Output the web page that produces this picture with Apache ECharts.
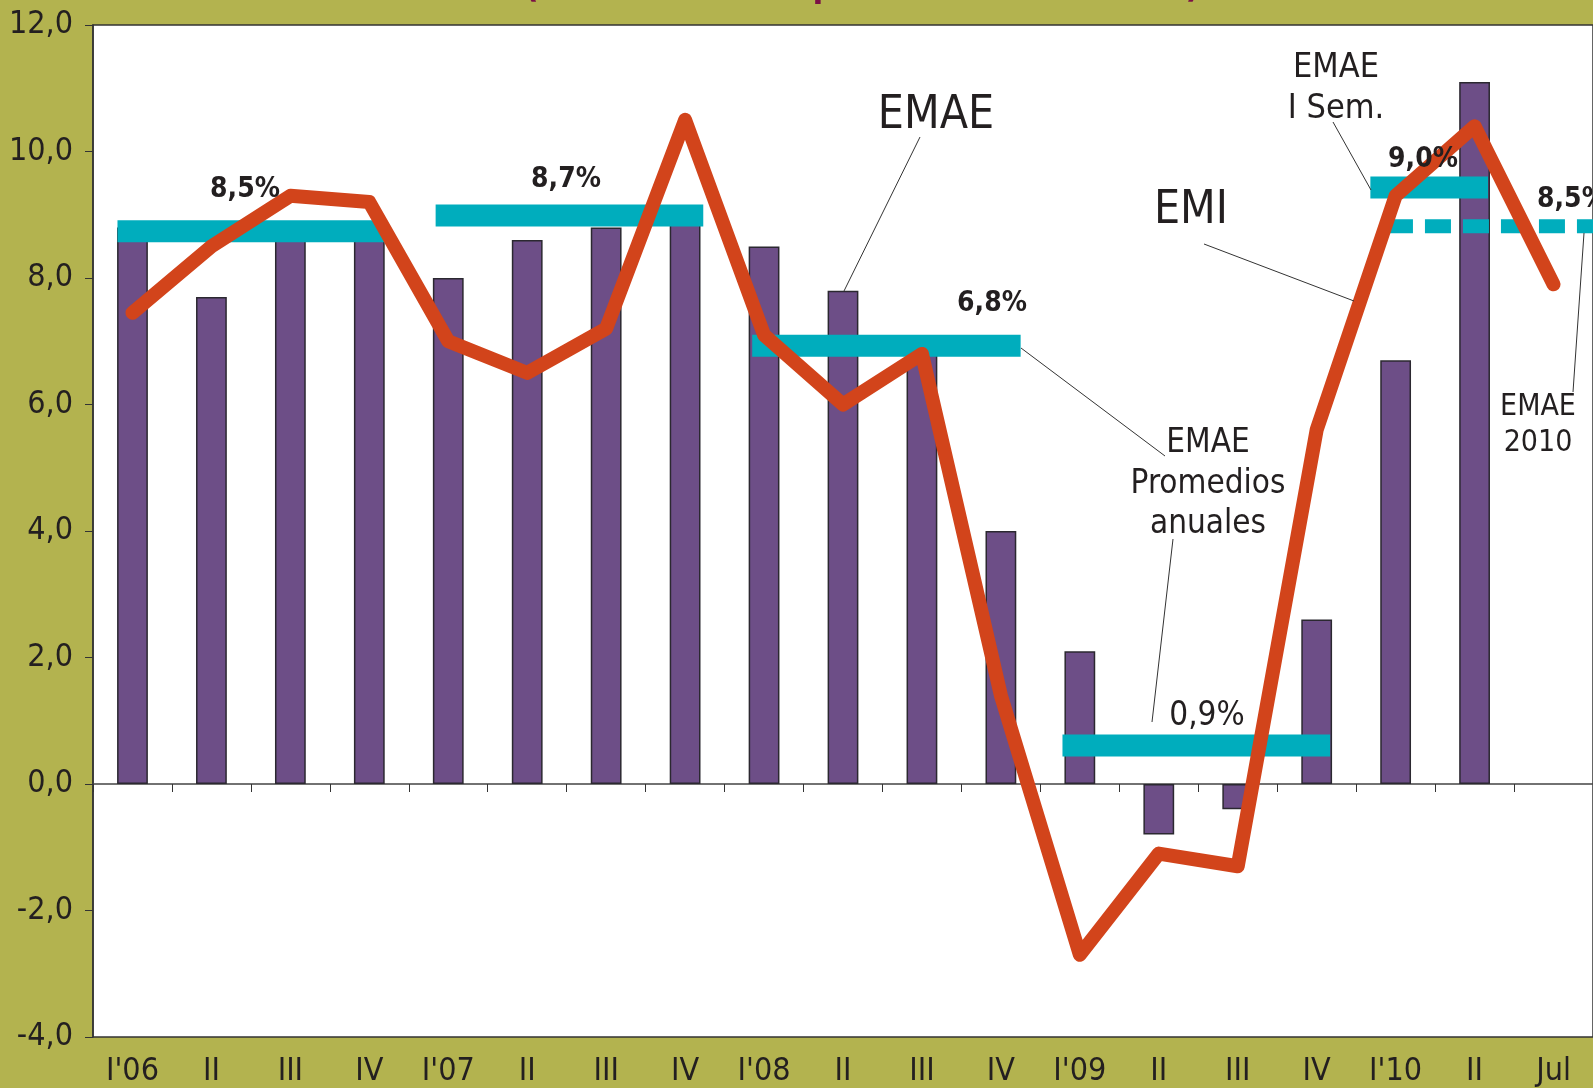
<!DOCTYPE html>
<html>
<head>
<meta charset="utf-8">
<script src="https://cdn.jsdelivr.net/npm/echarts@6/dist/echarts.min.js"></script>
<style>
  html, body { margin: 0; padding: 0; background: #b3b34f; }
  #chart { width: 1593px; height: 1088px; }
</style>
</head>
<body>
<div id="chart"></div>
<script>
// quarterly data, Y/Y % change
const categories = ["I'06", "II", "III", "IV", "I'07", "II", "III", "IV", "I'08", "II", "III", "IV",
  "I'09", "II", "III", "IV", "I'10", "II", "Jul"];
const emaeQuarterly = [8.8, 7.7, 8.7, 8.6, 8.0, 8.6, 8.8, 9.1, 8.5, 7.8, 6.9, 4.0,
  2.1, -0.8, -0.4, 2.6, 6.7, 11.1, null];
const emiQuarterly = [7.45, 8.5, 9.3, 9.2, 7.0, 6.5, 7.2, 10.5, 7.1, 6.0, 6.8, 1.4,
  -2.7, -1.1, -1.3, 5.6, 9.3, 10.4, 7.9];

// annual averages (drawn as thick bars), x in category-band units
const avgLevels = [8.74, 8.99, 6.93, 0.61, 9.43];
const avgStart = [0.31, 4.34, 8.35, 12.28, 16.18];
const avgEnd = [3.70, 7.73, 11.75, 15.67, 17.67];
const emae2010Level = 8.82;
const emae2010Span = [16.39, 19];

const yTicks = { min: -4, max: 12, interval: 2 };

const FONT = '"Liberation Sans Narrow", "DejaVu Sans Condensed", "Arial Narrow", sans-serif';
const TXT = '#231f20';

function label(text, x, y, size, weight, align, lineHeight) {
  return {
    type: 'text', x: x, y: y, z: 100,
    style: {
      text: text,
      font: (weight || 'normal') + ' ' + size + 'px ' + FONT,
      fill: TXT,
      align: align || 'center',
      verticalAlign: 'middle',
      lineHeight: lineHeight || size
    }
  };
}
function leader(x1, y1, x2, y2) {
  return {
    type: 'line', z: 100,
    shape: { x1: x1, y1: y1, x2: x2, y2: y2 },
    style: { stroke: '#333', lineWidth: 1 }
  };
}

const avgSeries = avgLevels.map((v, i) => ({
  type: 'line', xAxisIndex: 2, yAxisIndex: 0,
  data: [[avgStart[i], v], [avgEnd[i], v]],
  symbol: 'none', silent: true, animation: false, z: 3,
  lineStyle: { color: '#00adbd', width: 22, cap: 'butt' }
}));

const chart = echarts.init(document.getElementById('chart'));
chart.setOption({
  backgroundColor: '#b3b34f',
  textStyle: { fontFamily: FONT },
  grid: {
    left: 93, right: -1, top: 25, bottom: 50,
    show: true, backgroundColor: '#ffffff', borderColor: '#333', borderWidth: 1.5
  },
  xAxis: [
    {
      type: 'category', data: categories, position: 'bottom',
      axisLine: { onZero: true, lineStyle: { color: '#444', width: 1.5 } },
      axisTick: { show: true, interval: 0, length: 8, lineStyle: { color: '#333' } },
      axisLabel: { show: false }, splitLine: { show: false }
    },
    {
      type: 'category', data: categories, position: 'bottom',
      axisLine: { show: false, onZero: false },
      axisTick: { show: false },
      axisLabel: { show: true, interval: 0, color: TXT, fontSize: 32, fontFamily: FONT, margin: 19 },
      splitLine: { show: false }
    },
    { type: 'value', min: 0, max: 19, show: false }
  ],
  yAxis: {
    type: 'value', min: yTicks.min, max: yTicks.max, interval: yTicks.interval,
    axisLine: { show: true, lineStyle: { color: '#333', width: 1.5 } },
    axisTick: { show: true, length: 8, lineStyle: { color: '#333' } },
    splitLine: { show: false },
    axisLabel: {
      color: TXT, fontSize: 32, fontFamily: FONT, margin: 20,
      formatter: v => v.toFixed(1).replace('.', ',')
    }
  },
  series: [
    {
      name: 'EMAE', type: 'bar', xAxisIndex: 0, data: emaeQuarterly,
      barWidth: '39%', silent: true, animation: false, z: 2,
      itemStyle: { color: '#6d4e87', borderColor: '#2b2830', borderWidth: 1.5 }
    },
    ...avgSeries,
    {
      name: 'EMAE 2010', type: 'line', xAxisIndex: 2, yAxisIndex: 0,
      data: [[emae2010Span[0], emae2010Level], [emae2010Span[1], emae2010Level]],
      symbol: 'none', silent: true, animation: false, z: 3,
      lineStyle: { color: '#00adbd', width: 14, type: [26, 12], cap: 'butt' }
    },
    {
      name: 'EMI', type: 'line', xAxisIndex: 0, data: emiQuarterly,
      symbol: 'none', silent: true, animation: false, z: 5,
      lineStyle: { color: '#d2441b', width: 14, cap: 'round', join: 'round' }
    }
  ],
  graphic: [
    {
      type: 'text', x: 862, y: 5, z: 100,
      style: {
        text: '(Variación % respecto al año anterior)',
        font: 'bold 35px ' + FONT, fill: '#7b1045',
        align: 'center', verticalAlign: 'bottom'
      }
    },
    label('EMAE', 936, 116, 46),
    label('EMI', 1191, 211, 46),
    label('8,5%', 245, 190, 28, 'bold'),
    label('8,7%', 566, 180, 28, 'bold'),
    label('6,8%', 992, 304, 28, 'bold'),
    label('0,9%', 1207, 716, 33),
    label('9,0%', 1423, 160, 28, 'bold'),
    label('8,5%', 1537, 200, 28, 'bold', 'left'),
    label('EMAE\nI Sem.', 1336, 89, 34, 'normal', 'center', 41),
    label('EMAE\nPromedios\nanuales', 1208, 484, 33, 'normal', 'center', 40.5),
    label('EMAE\n2010', 1538, 425, 30, 'normal', 'center', 35.5),
    leader(920, 137, 844, 291),
    leader(1204, 244, 1354, 301),
    leader(1333, 122, 1371, 190),
    leader(1021, 348, 1165, 456),
    leader(1173, 539, 1152, 722),
    leader(1573, 392, 1584, 233)
  ]
});
</script>
</body>
</html>
